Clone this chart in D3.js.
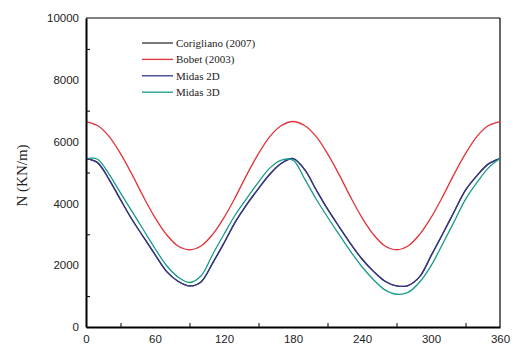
<!DOCTYPE html>
<meta charset="utf-8">
<style>
  body { margin: 0; background: #fff; }
  .tick text { font-family: "Liberation Sans", Arial, sans-serif; font-size: 11.5px; fill: #222; }
  .legend text { font-family: "Liberation Serif", "Times New Roman", serif; font-size: 11px; fill: #222; }
</style>
<body>
  <div id="chart"></div>
  <script src="https://d3js.org/d3.v7.min.js"></script>
  <script>
    // angle (deg), every 10 degrees
    var angles = d3.range(0, 361, 10);

    // values (KN/m)
    var corigliano = [5450, 5320, 4780, 4120, 3480, 2910, 2345, 1800, 1480, 1330,
      1460, 2060, 2720, 3410, 3980, 4480, 4950, 5300, 5450,
      5100, 4450, 3820, 3250, 2700, 2200, 1800, 1480, 1330,
      1340, 1620, 2300, 3000, 3720, 4430, 4900, 5280, 5450];
    var bobet = [6650, 6520, 6170, 5610, 4940, 4210, 3540, 2990, 2620, 2500,
      2620, 2990, 3540, 4210, 4940, 5610, 6170, 6520, 6650,
      6520, 6170, 5610, 4940, 4210, 3540, 2990, 2620, 2500,
      2620, 2990, 3540, 4210, 4940, 5610, 6170, 6520, 6650];
    var midas2d = corigliano.slice();
    var midas3d = [5450, 5430, 4950, 4340, 3740, 3140, 2540, 1990, 1620, 1440,
      1650, 2340, 3000, 3640, 4170, 4690, 5150, 5400, 5400,
      4800, 4150, 3560, 3000, 2450, 1950, 1530, 1200, 1060,
      1120, 1450, 1980, 2680, 3400, 4130, 4680, 5150, 5450];

    var seriesNames = ["Corigliano (2007)", "Bobet (2003)", "Midas 2D", "Midas 3D"];
    var seriesColors = ["#333333", "#e2333a", "#36358f", "#17998b"];
    var seriesValues = [corigliano, bobet, midas2d, midas3d];

    var xTicks = [0, 60, 120, 180, 240, 300, 360];
    var xMinor = [30, 90, 150, 210, 270, 330];
    var yTicks = [0, 2000, 4000, 6000, 8000, 10000];
    var yMinor = [1000, 3000, 5000, 7000, 9000];

    var margin = { top: 18, right: 24, bottom: 29, left: 86 };
    var W = 524, H = 356;
    var width = 500 - margin.left;
    var height = H - margin.top - margin.bottom;

    var svg = d3.select("#chart").append("svg")
      .attr("width", W)
      .attr("height", H)
      .style("display", "block");

    var g = svg.append("g")
      .attr("transform", "translate(" + margin.left + "," + margin.top + ")");

    var x = d3.scaleLinear().domain([0, 360]).range([0, width]);
    var y = d3.scaleLinear().domain([0, 10000]).range([height, 0]);

    // frame top/right
    g.append("line").attr("x1", 0).attr("x2", width).attr("y1", 0).attr("y2", 0)
      .attr("stroke", "#000").attr("stroke-width", 1.2);
    g.append("line").attr("x1", width).attr("x2", width).attr("y1", 0).attr("y2", height)
      .attr("stroke", "#000").attr("stroke-width", 1.2);

    var line = d3.line()
      .curve(d3.curveCatmullRom.alpha(0.5))
      .x(function (d, i) { return x(angles[i]); })
      .y(function (d) { return y(d); });

    g.selectAll(".series")
      .data(seriesValues)
      .enter()
      .append("path")
      .attr("class", "series")
      .attr("fill", "none")
      .attr("stroke", function (d, i) { return seriesColors[i]; })
      .attr("stroke-width", 1.3)
      .attr("d", line);

    // axes
    var xAxis = g.append("g")
      .attr("transform", "translate(0," + height + ")")
      .call(d3.axisBottom(x).tickValues(xTicks).tickSize(0).tickPadding(8).tickFormat(d3.format("d")));
    xAxis.select(".domain").attr("stroke-width", 2);

    g.append("g")
      .attr("transform", "translate(0," + height + ")")
      .call(d3.axisBottom(x).tickValues(xMinor).tickSize(-4).tickFormat(""))
      .call(function (a) { a.select(".domain").remove(); });

    var yAxis = g.append("g")
      .call(d3.axisLeft(y).tickValues(yTicks).tickSize(0).tickPadding(7).tickFormat(d3.format("d")));
    yAxis.select(".domain").attr("stroke-width", 2);

    g.append("g")
      .call(d3.axisLeft(y).tickValues(yMinor).tickSize(-4).tickFormat(""))
      .call(function (a) { a.select(".domain").remove(); });

    // y title
    svg.append("text")
      .attr("transform", "translate(27," + (margin.top + height / 2 + 3) + ") rotate(-90)")
      .attr("text-anchor", "middle")
      .style("font-family", "'Liberation Serif', 'Times New Roman', serif")
      .style("font-size", "15px")
      .attr("fill", "#222")
      .text("N (KN/m)");

    // legend
    var legend = svg.append("g").attr("class", "legend")
      .attr("transform", "translate(142,43)");
    var rows = legend.selectAll("g")
      .data(seriesNames)
      .enter()
      .append("g")
      .attr("transform", function (d, i) { return "translate(0," + (i * 16.4) + ")"; });
    rows.append("line")
      .attr("x1", 0).attr("x2", 31)
      .attr("stroke", function (d, i) { return seriesColors[i]; })
      .attr("stroke-width", 1.3);
    rows.append("text")
      .attr("x", 34)
      .attr("dy", "0.35em")
      .text(function (d) { return d; });
  </script>
</body>
